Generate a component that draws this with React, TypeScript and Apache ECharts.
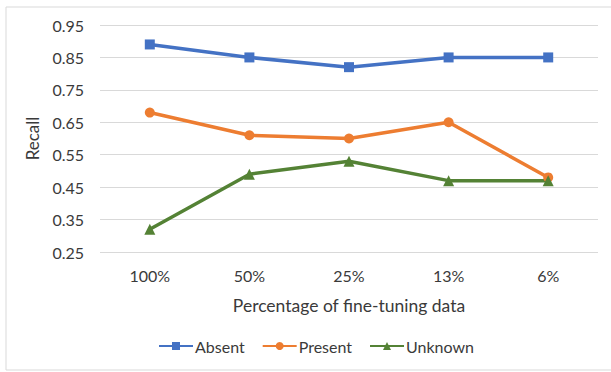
import React, { useEffect, useRef } from "react";
import * as echarts from "echarts";

const categories = ["100%", "50%", "25%", "13%", "6%"];
const absent = [0.89, 0.85, 0.82, 0.85, 0.85];
const present = [0.68, 0.61, 0.6, 0.65, 0.48];
const unknown = [0.32, 0.49, 0.53, 0.47, 0.47];

const FONT = "Lato";
const TXT = "#3a3a3a";

export default function App() {
  const ref = useRef<HTMLDivElement>(null);
  useEffect(() => {
    document.body.style.margin = "0";
    const chart = echarts.init(ref.current!, null, { renderer: "svg" });
    const mk = (name: string, data: number[], color: string, symbol: string, size: number) => ({
      name,
      type: "line",
      data,
      symbol,
      symbolSize: size,
      lineStyle: { color, width: 3.5 },
      itemStyle: { color },
      z: 3,
    });
    chart.setOption({
      animation: false,
      textStyle: { fontFamily: FONT },
      graphic: [
        {
          type: "rect",
          shape: { x: 6, y: 7, width: 620, height: 363 },
          style: { fill: "none", stroke: "#d9d9d9", lineWidth: 1 },
          silent: true,
        },
      ],
      grid: { left: 100, right: 13, top: 25, bottom: 120 },
      xAxis: {
        type: "category",
        data: categories,
        boundaryGap: true,
        axisLine: { show: false },
        axisTick: { show: false },
        axisLabel: { color: TXT, fontSize: 16, fontFamily: FONT, margin: 15 },
        name: "Percentage of fine-tuning data",
        nameLocation: "middle",
        nameGap: 44,
        nameTextStyle: { color: TXT, fontSize: 17.5, fontFamily: FONT },
      },
      yAxis: {
        type: "value",
        min: 0.25,
        max: 0.95,
        interval: 0.1,
        axisLine: { show: false },
        axisTick: { show: false },
        splitLine: { lineStyle: { color: "#d9d9d9", width: 1 } },
        axisLabel: {
          color: TXT,
          fontSize: 16,
          fontFamily: FONT,
          margin: 16,
          formatter: (v: number) => v.toFixed(2),
        },
        name: "Recall",
        nameLocation: "middle",
        nameGap: 54,
        nameTextStyle: { color: TXT, fontSize: 17, fontFamily: FONT },
      },
      legend: {
        bottom: 13,
        left: 153,
        itemWidth: 34,
        itemHeight: 10,
        itemGap: 17,
        textStyle: { color: TXT, fontSize: 16, fontFamily: FONT, padding: [0, 0, 0, -3] },
        data: ["Absent", "Present", "Unknown"],
      },
      series: [
        mk("Absent", absent, "#4472C4", "rect", 10),
        mk("Present", present, "#ED7D31", "circle", 10),
        mk("Unknown", unknown, "#548235", "triangle", 11),
      ],
    });
    return () => chart.dispose();
  }, []);
  return <div ref={ref} style={{ width: 611, height: 372, position: "absolute", left: 0, top: 0 }} />;
}
